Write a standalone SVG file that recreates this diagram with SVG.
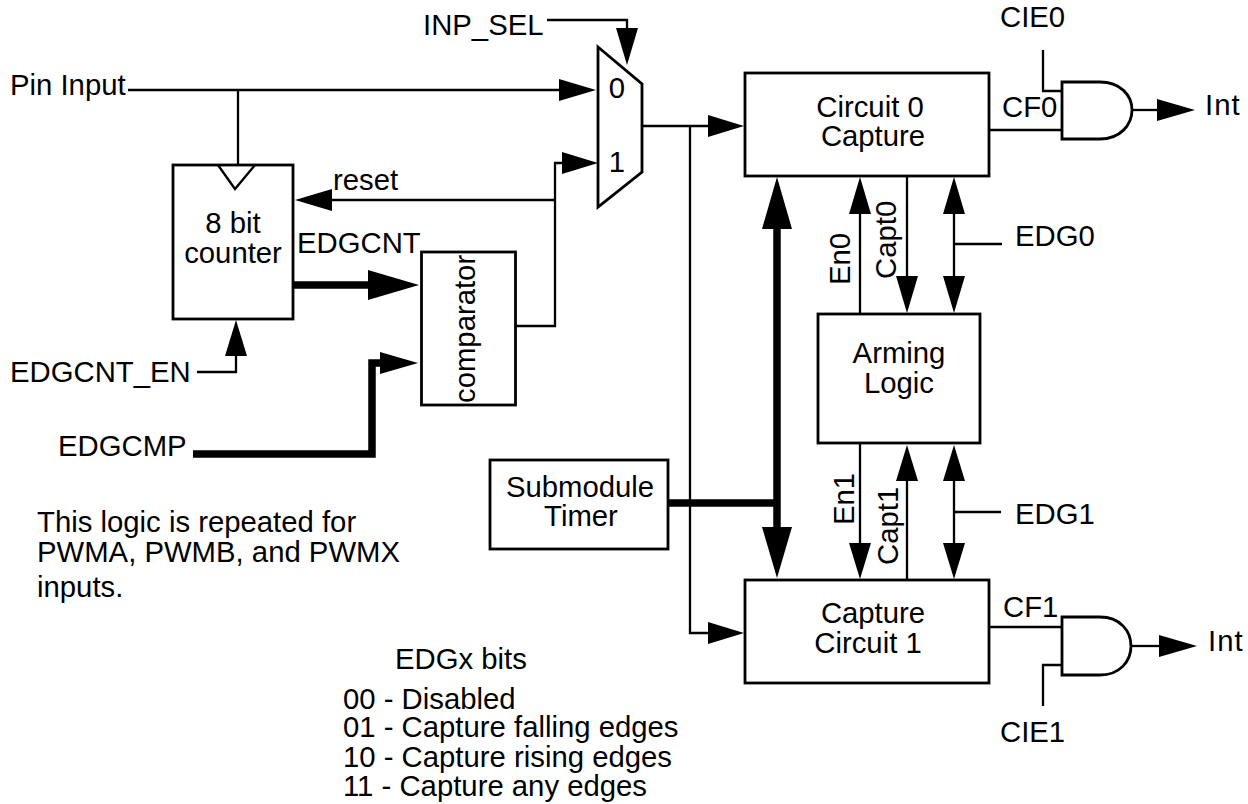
<svg xmlns="http://www.w3.org/2000/svg" width="1248" height="804" viewBox="0 0 1248 804">
<defs><clipPath id="edge"><rect x="12" y="0" width="300" height="804"/></clipPath></defs>
<style>
text{font-family:"Liberation Sans",Arial,sans-serif;font-size:29.3px;fill:#000}
.m{text-anchor:middle}
.b{fill:#fff;stroke:#000;stroke-width:2.8}
.w{fill:none;stroke:#000;stroke-width:2.3}
.h{fill:none;stroke:#000;stroke-width:7.5}
.a{fill:#000;stroke:none}
</style>
<rect width="1248" height="804" fill="#fff"/>
<g id="connectors">
<path class="w" d="M128 90H562M238 90V165"/>
<polygon class="a" points="559,79 596,90 559,101"/>
<path class="w" d="M547 20H627V32"/>
<polygon class="a" points="616,28 638,28 627,65"/>
<path class="w" d="M330 200H555M516 326H555V163H564"/>
<polygon class="a" points="332,189 295,200 332,211"/>
<polygon class="a" points="562,152 598,163 562,174"/>
<path class="w" d="M643 126H710M690 126V633H710"/>
<polygon class="a" points="708,115 744,126 708,137"/>
<polygon class="a" points="708,622 744,633 708,644"/>
<path class="h" d="M290 285H370"/>
<polygon class="a" points="368,270 419,285 368,300"/>
<path class="w" d="M197 372H236V350"/>
<polygon class="a" points="225,356 247,356 236,320"/>
<path class="h" d="M193 454H372V363H382"/>
<polygon class="a" points="380,352 418,363 380,374"/>
<path class="h" d="M665 503H777M777 225V530"/>
<polygon class="a" points="762,229 792,229 777,177"/>
<polygon class="a" points="762,527 792,527 777,578"/>
<path class="w" d="M860 314V210M907 176V280M954 210V280M954 244H1002"/>
<polygon class="a" points="849,214 871,214 860,177"/>
<polygon class="a" points="896,276 918,276 907,313"/>
<polygon class="a" points="943,214 965,214 954,177"/>
<polygon class="a" points="943,276 965,276 954,313"/>
<path class="w" d="M860 443V547M907 580V478M954 478V547M954 512H1001"/>
<polygon class="a" points="849,543 871,543 860,579"/>
<polygon class="a" points="896,481 918,481 907,445"/>
<polygon class="a" points="943,481 965,481 954,445"/>
<polygon class="a" points="943,543 965,543 954,579"/>
<path class="w" d="M989 130H1062M1043 50V91H1062"/>
<path class="w" d="M1132 110H1160"/>
<polygon class="a" points="1157,99 1195,110 1157,121"/>
<path class="w" d="M989 627H1062M1043 706V665H1062"/>
<path class="w" d="M1131 646H1162"/>
<polygon class="a" points="1159,635 1197,646 1159,657"/>
</g>
<g id="counter"><rect class="b" x="173" y="165" width="120" height="154"/><path class="w" d="M218 165L235 189L255 165"/><text class="m" x="233" y="233">8 bit</text><text class="m" x="233" y="263">counter</text></g>
<g id="mux"><polygon class="b" points="598,47 642,84 642,172 598,207"/><text class="m" x="617" y="98">0</text><text class="m" x="617" y="172">1</text></g>
<g id="comparator"><rect class="b" x="421.500" y="252" width="94" height="153"/><text transform="translate(475,403) rotate(-90)">comparator</text></g>
<g id="capture0"><rect class="b" x="745" y="73" width="244" height="103"/><text class="m" x="870" y="117">Circuit 0</text><text class="m" x="873" y="146">Capture</text></g>
<g id="capture1"><rect class="b" x="745" y="580" width="244" height="103"/><text class="m" x="873" y="623">Capture</text><text class="m" x="868" y="653">Circuit 1</text></g>
<g id="arming"><rect class="b" x="818" y="314" width="162" height="129"/><text class="m" x="899" y="363">Arming</text><text class="m" x="899" y="393">Logic</text></g>
<g id="timer"><rect class="b" x="490" y="460" width="178" height="89"/><text class="m" x="580" y="497">Submodule</text><text class="m" x="581" y="526">Timer</text></g>
<g id="and0"><path class="b" d="M1062 82H1100C1120 82 1132 95 1132 110C1132 125 1120 139 1100 139H1062Z"/></g>
<g id="and1"><path class="b" d="M1062 617H1100C1120 617 1131 631 1131 646C1131 661 1120 675 1100 675H1062Z"/></g>
<g id="labels">
<text x="10" y="95" clip-path="url(#edge)">Pin Input</text>
<text x="423" y="35">INP_SEL</text>
<text x="333" y="190">reset</text>
<text x="297" y="253">EDGCNT</text>
<text x="10" y="382" clip-path="url(#edge)">EDGCNT_EN</text>
<text x="58" y="456">EDGCMP</text>
<text x="37" y="532">This logic is repeated for</text>
<text x="37" y="562">PWMA, PWMB, and PWMX</text>
<text x="37" y="597">inputs.</text>
<text x="395" y="669">EDGx bits</text>
<text x="343" y="709">00 - Disabled</text>
<text x="343" y="737">01 - Capture falling edges</text>
<text x="343" y="767">10 - Capture rising edges</text>
<text x="343" y="796">11 - Capture any edges</text>
<text x="1002" y="117">CF0</text>
<text x="1003" y="617">CF1</text>
<text x="1000" y="27">CIE0</text>
<text x="1000" y="742">CIE1</text>
<text x="1205" y="115" letter-spacing="1">Int</text>
<text x="1208" y="651" letter-spacing="1">Int</text>
<text x="1015" y="246">EDG0</text>
<text x="1015" y="524">EDG1</text>
<text transform="translate(850,285) rotate(-90)">En0</text>
<text transform="translate(896,279) rotate(-90)">Capt0</text>
<text transform="translate(854,525) rotate(-90)">En1</text>
<text transform="translate(898,565) rotate(-90)">Capt1</text>
</g>
</svg>
